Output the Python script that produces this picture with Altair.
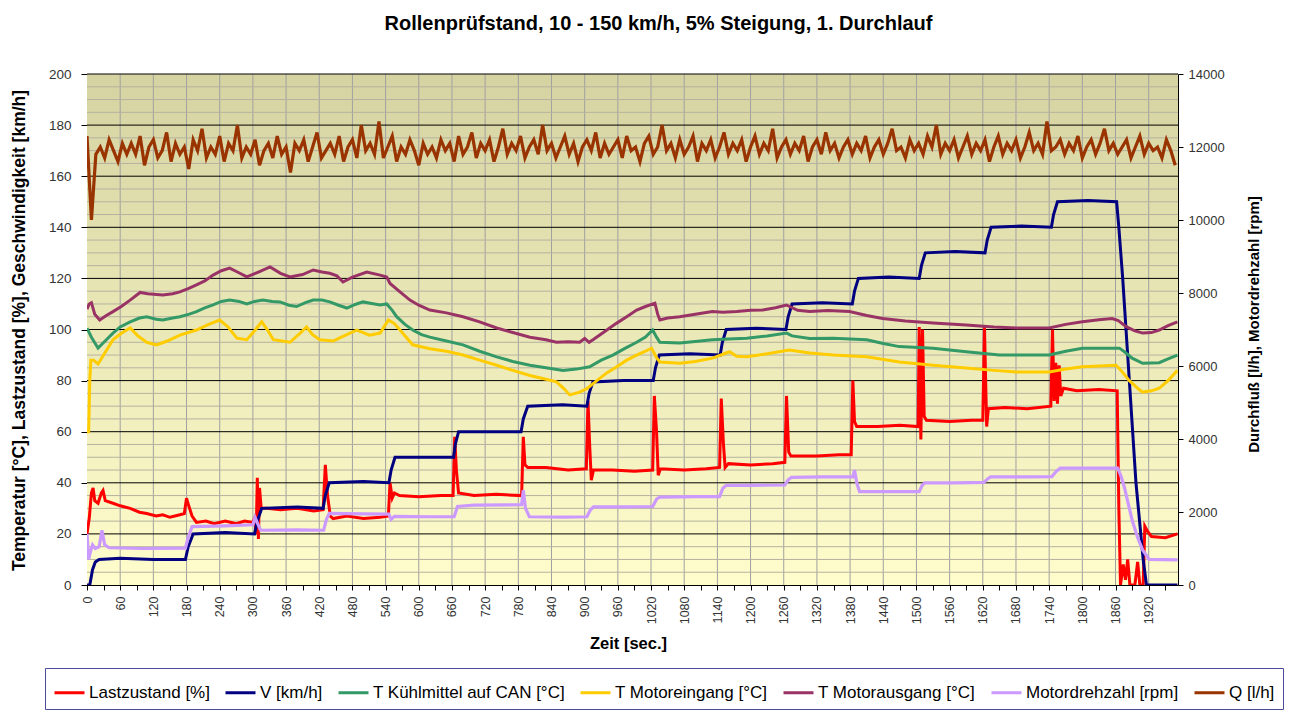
import altair as alt
import pandas as pd

TITLE = "Rollenprüfstand, 10 - 150 km/h, 5% Steigung, 1. Durchlauf"
SERIES = ["Lastzustand [%]", "V [km/h]", "T Kühlmittel auf CAN [°C]", "T Motoreingang [°C]",
          "T Motorausgang [°C]", "Motordrehzahl [rpm]", "Q [l/h]"]
COLORS = ["#ff0000", "#000080", "#339966", "#ffcc00", "#993366", "#cc99ff", "#993300"]

# ---------------- left axis series ----------------
t_last = [0, 4, 8, 11, 14, 20, 26, 29, 33, 47, 60, 78, 95, 108, 125, 137, 150, 168, 176, 180, 184, 190,
          198, 215, 230, 250, 270, 285, 300, 303, 306, 308, 310, 312, 315, 325, 350, 380, 410, 427, 431,
          435, 440, 445, 470, 500, 530, 545, 548, 552, 556, 565, 600, 640, 662, 665, 668, 672, 700, 740,
          786, 789, 792, 797, 830, 870, 903, 906, 909, 912, 916, 950, 990, 1023, 1026, 1030, 1033, 1037,
          1080, 1120, 1144, 1147, 1151, 1154, 1160, 1200, 1240, 1262, 1265, 1269, 1273, 1320, 1360, 1382,
          1385, 1388, 1392, 1430, 1470, 1503, 1505, 1508, 1511, 1514, 1518, 1560, 1600, 1620, 1623, 1627,
          1630, 1660, 1700, 1743, 1746, 1749, 1752, 1755, 1758, 1761, 1766, 1790, 1830, 1863, 1866, 1869,
          1874, 1878, 1882, 1886, 1895, 1900, 1904, 1910, 1913, 1918, 1925, 1950, 1972]
v_last = [20, 26, 36, 38, 33, 32, 36, 37, 33, 32, 31, 30, 28.5, 28, 27, 27.5, 26.5, 27.5, 28, 34, 31, 27,
          24.5, 25, 24, 25, 24, 25, 24.5, 26, 20, 42, 18, 38, 30, 30, 29.5, 30, 29, 29.5, 47,
          35, 27, 26, 27, 26, 26.5, 27, 40, 34, 36, 35, 34.5, 35, 35, 58, 45, 36, 35, 35.5,
          35, 58, 47, 46, 46, 45, 45.5, 72, 55, 41, 45, 45, 44.5, 45, 74, 60, 43, 45.5,
          45, 45.5, 46, 73, 55, 46, 47.5, 47, 47.5, 48, 74, 52, 50.5, 50.5, 51, 51,
          80, 64, 62, 62, 62.5, 62, 101, 57, 100, 66, 64.5, 64, 64.5, 64.5, 101, 62,
          69, 69.5, 69, 70, 100, 72, 87, 71, 86, 74, 77, 76, 76.5, 76, 30, 0,
          8, 2, 10, 0, 0, 9, 0, 0, 23, 21, 19, 18.5, 20]

t_v = [0, 5, 10, 15, 22, 60, 120, 178, 183, 192, 250, 303, 308, 316, 380, 427, 431, 438, 500, 546, 550,
       557, 620, 663, 666, 672, 740, 785, 789, 797, 860, 904, 908, 915, 970, 1024, 1028, 1035, 1090,
       1145, 1149, 1156, 1210, 1264, 1268, 1275, 1330, 1384, 1388, 1395, 1450, 1505, 1509, 1516, 1570,
       1624, 1628, 1635, 1690, 1744, 1748, 1755, 1810, 1862, 1866, 1873, 1885, 1897, 1910, 1916, 1972]
v_v = [0, 0, 6, 9, 10, 10.5, 10, 10, 15, 20, 20.5, 20, 25, 30, 30.5, 30, 35, 40, 40.5, 40, 45,
       50, 50, 50, 55, 60, 60, 60, 65, 70, 70.5, 70, 75, 79.5, 80, 80, 85, 90, 90.5,
       90, 95, 100, 100.5, 100, 105, 110, 110.5, 110, 115, 120, 120.5, 120, 125, 130, 130.5,
       130, 135, 140, 140.5, 140, 145, 150, 150.5, 150, 140, 120, 80, 40, 10, 0, 0]

t_kuehl = [0, 8, 20, 35, 47, 60, 78, 95, 108, 125, 137, 155, 168, 185, 198, 213, 228, 243, 258, 275, 289,
           303, 318, 335, 349, 365, 379, 395, 409, 425, 439, 455, 470, 485, 499, 515, 530, 542, 552, 560,
           575, 589, 605, 620, 650, 680, 710, 741, 770, 801, 830, 861, 885, 909, 930, 951, 972, 994, 1010,
           1023, 1030, 1036, 1072, 1100, 1131, 1160, 1193, 1230, 1265, 1275, 1307, 1350, 1410, 1440, 1469,
           1530, 1590, 1650, 1700, 1740, 1770, 1800, 1867, 1878, 1890, 1909, 1939, 1955, 1972]
v_kuehl = [100.5, 97, 92.7, 96, 98.6, 101, 103, 104.5, 105, 104, 103.7, 104.5, 105, 106, 107, 108.5, 109.6,
           111, 111.5, 111, 110, 111, 111.5, 111, 110.8, 109.5, 109, 110.5, 111.5, 111.5, 110.8, 109.5, 108.4,
           109.8, 110.8, 110.2, 109.6, 110, 107.5, 105, 102, 99.8, 98, 97, 95.5, 94, 91.5, 89.3, 87.5, 86, 85,
           84, 84.5, 85.4, 88, 90, 92.5, 95, 97, 99.8, 97, 95, 94.7, 95.3, 96, 96.3, 96.6, 97.5, 98.6, 97.5,
           96.5, 96.6, 96, 94.5, 93.3, 92.7, 91.3, 90, 90, 90, 91.5, 92.7, 92.7, 91, 88.8, 86.8, 87, 88.5, 90]

t_ein = [0, 3, 5, 7, 12, 20, 30, 47, 62, 78, 92, 108, 126, 145, 168, 198, 220, 240, 255, 271, 289, 305,
         316, 326, 337, 367, 385, 397, 408, 421, 445, 465, 488, 511, 530, 540, 545, 555, 566, 589, 620,
         650, 680, 710, 741, 770, 801, 830, 849, 862, 873, 891, 905, 922, 940, 958, 976, 994, 1010, 1021,
         1030, 1036, 1072, 1100, 1131, 1162, 1175, 1193, 1230, 1270, 1307, 1350, 1410, 1469, 1530, 1590,
         1640, 1681, 1740, 1770, 1800, 1861, 1870, 1885, 1900, 1909, 1925, 1939, 1955, 1972]
v_ein = [60, 60, 80, 88, 88, 86.5, 90, 96, 98.5, 100.6, 97.5, 95, 94, 95.5, 97.8, 99.8, 102, 103.7, 101,
         96.6, 96, 100, 103, 100, 96, 95, 98.5, 101, 98, 96, 95.5, 97.5, 99.8, 97.8, 98.6, 102, 103.7,
         102.5, 99.8, 94, 92.5, 91.5, 90, 88, 86, 84, 82, 80.5, 79.5, 77, 74.4, 75.5, 77, 80, 83, 85.4,
         88, 90, 91.5, 92.7, 89, 87.3, 86.8, 87.5, 88.8, 91.3, 89.5, 89.3, 90.5, 92, 90.8, 90, 89.3, 87.3,
         86, 84.9, 84, 83.4, 83.4, 84.5, 85.4, 86, 84, 80, 77, 75.5, 76, 77, 80, 84]

t_aus = [0, 4, 8, 14, 23, 35, 47, 62, 78, 96, 110, 137, 155, 168, 183, 198, 213, 228, 243, 258, 272, 289,
         310, 331, 350, 367, 390, 409, 425, 439, 452, 463, 480, 506, 530, 542, 548, 566, 584, 600, 620,
         650, 680, 710, 741, 770, 801, 830, 849, 870, 891, 900, 908, 915, 935, 958, 976, 994, 1010, 1027,
         1032, 1036, 1050, 1072, 1100, 1131, 1150, 1175, 1200, 1222, 1245, 1265, 1285, 1307, 1340, 1379,
         1410, 1439, 1480, 1530, 1590, 1640, 1681, 1740, 1770, 1800, 1830, 1854, 1865, 1880, 1895, 1909,
         1925, 1939, 1955, 1972]
v_aus = [108, 110, 110.5, 106, 103.7, 105.5, 107, 109, 111.5, 114.5, 114, 113.5, 114, 114.7, 116, 117.5,
         119, 121.3, 123, 124, 122.5, 120.6, 122.5, 124.5, 122, 120.6, 121.5, 123.3, 122.5, 122, 121,
         118.6, 120.5, 122.5, 121.3, 120.5, 118, 114.7, 111.5, 109.5, 107.6, 106.5, 105, 103, 100.6, 98.8,
         97, 96, 95, 95.2, 95, 96.5, 95, 96, 99, 102.5, 105, 107.6, 109, 110.3, 106, 103.7, 104.5, 105,
         106, 107, 106.8, 107, 107.5, 107.6, 108.5, 109.6, 107.5, 107, 107.4, 107, 105.5, 104.3, 103.3,
         102.5, 101.8, 101, 100.6, 100.6, 102, 103, 103.8, 104.3, 103.5, 101, 99.5, 98.6, 98.8, 99.8,
         101.5, 103]

# ---------------- right axis series ----------------
t_rpm = [0, 3, 6, 10, 15, 22, 27, 32, 40, 100, 178, 183, 190, 250, 300, 304, 308, 314, 380, 428, 433,
         438, 500, 546, 550, 556, 620, 664, 670, 700, 786, 789, 793, 800, 860, 904, 910, 916, 980, 1023,
         1030, 1036, 1100, 1144, 1150, 1156, 1200, 1262, 1268, 1274, 1330, 1385, 1388, 1392, 1397, 1450,
         1505, 1510, 1515, 1570, 1622, 1628, 1634, 1700, 1745, 1752, 1760, 1810, 1864, 1870, 1876, 1890,
         1900, 1909, 1921, 1972]
v_rpm = [1400, 700, 900, 1100, 1000, 1050, 1500, 1100, 1020, 1000, 1010, 1300, 1600, 1620, 1650, 1850,
         1700, 1500, 1510, 1500, 1800, 1960, 1950, 1940, 1800, 1880, 1870, 1870, 2150, 2190, 2200, 2600,
         2100, 1870, 1860, 1870, 2050, 2140, 2140, 2150, 2350, 2410, 2420, 2420, 2650, 2730, 2730, 2740,
         2880, 2950, 2960, 2960, 3150, 2800, 2560, 2560, 2560, 2720, 2800, 2800, 2810, 2900, 2960, 2960,
         2970, 3100, 3200, 3200, 3200, 2980, 2680, 1780, 1300, 960, 700, 690]

# Q [l/h], one reading every 8 s
q_vals = [12300, 10000, 11800, 12000, 11700, 12200, 11900, 11600, 12100, 11800,
          12100, 11800, 12300, 11500, 12000, 12200, 11700, 11900, 12400, 11600,
          12100, 11800, 12000, 11400, 12200, 11900, 12500, 11700, 12000, 11800,
          12300, 11600, 12100, 11900, 12600, 11700, 12000, 11800, 12200, 11500,
          11900, 12100, 11700, 12300, 11800, 12000, 11300, 12100, 11900, 12200,
          11600, 12000, 12400, 11700, 11900, 12100, 11800, 12300, 11600, 12000,
          12200, 11700, 12600, 11900, 12100, 11800, 12700, 11700, 12000, 12300,
          11600, 12000, 11800, 12200, 11900, 11500, 12100, 11800, 12000, 11700,
          12200, 11900, 12100, 11600, 12300, 11800, 12000, 12400, 11700, 12100,
          11900, 12200, 11600, 12000, 12500, 11800, 12100, 11900, 12300, 11700,
          12000, 12200, 11800, 12600, 11900, 12100, 11700, 12000, 12300, 11800,
          12100, 11600, 12000, 12200, 11900, 12400, 11700, 12100, 11800, 12000,
          12200, 11700, 12300, 11900, 12000, 11600, 12100, 12300, 11800, 12000,
          12600, 11900, 12100, 11700, 12200, 11800, 12000, 12300, 11600, 12100,
          11900, 12200, 11700, 12000, 12400, 11800, 12100, 11900, 12200, 11600,
          12000, 12300, 11800, 12100, 11900, 12500, 11700, 12000, 12200, 11800,
          12100, 11900, 12300, 11600, 12000, 12200, 11800, 12400, 11900, 12100,
          11700, 12000, 12200, 11800, 12100, 11900, 12300, 11700, 12000, 12200,
          11800, 12100, 12500, 11900, 12000, 11700, 12200, 11900, 12100, 11800,
          12300, 12000, 12600, 11800, 12100, 11900, 12200, 11700, 12000, 12300,
          11800, 12100, 11900, 12200, 11600, 12000, 12300, 11800, 12100, 11900,
          12200, 11700, 12000, 12400, 11900, 12100, 11800, 12700, 11900, 12000,
          12200, 11800, 12100, 11900, 12300, 11700, 12000, 12200, 11800, 12100,
          12500, 11900, 12100, 11800, 12000, 12200, 11700, 12000, 12300, 11800,
          12100, 11900, 12000, 11700, 12200, 11900, 11500]
t_q = [8 * i for i in range(len(q_vals))]

# ---------------- axes / grid ----------------
X_MAX = 1973
x_tick_vals = list(range(0, 1951, 30))
y_left_ticks = list(range(0, 201, 20))
y_right_ticks = list(range(0, 14001, 2000))
v_grid = list(range(60, 1921, 60))
h_minor = [v for v in range(5, 200, 5) if v % 20 != 0]
h_major = list(range(20, 201, 20))


def frame(ts, vs, name):
    return pd.DataFrame({"t": ts, "v": vs, "series": name})


left_df = pd.concat([frame(t_last, v_last, SERIES[0]), frame(t_v, v_v, SERIES[1]),
                     frame(t_kuehl, v_kuehl, SERIES[2]), frame(t_ein, v_ein, SERIES[3]),
                     frame(t_aus, v_aus, SERIES[4])], ignore_index=True)
right_df = pd.concat([frame(t_rpm, v_rpm, SERIES[5]), frame(t_q, q_vals, SERIES[6])], ignore_index=True)

W, H = 1091, 511
FONT = "Liberation Sans"

xscale = alt.Scale(domain=[0, X_MAX], nice=False, zero=False)
yscale = alt.Scale(domain=[0, 200], nice=False)

X_AXIS = alt.Axis(values=x_tick_vals, title="Zeit [sec.]", grid=False, labelAngle=270, format="d",
                  labelExpr="datum.value % 60 === 0 ? datum.label : ''",
                  labelFontSize=12.5, labelFont=FONT, labelColor="#333", labelPadding=6,
                  tickSize=5, tickColor="#000", domainColor="#000",
                  titleFont=FONT, titleFontSize=16.5, titleFontWeight="bold",
                  titleX=541, titleY=58, titleBaseline="middle", labelFlush=False,
                  labelOverlap=False)
Y_AXIS = alt.Axis(values=y_left_ticks, grid=False, orient="left", format="d",
                  title="Temperatur [°C], Lastzustand [%], Geschwindigkeit [km/h]",
                  labelFontSize=13.5, labelFont=FONT, labelColor="#333", labelPadding=10,
                  tickSize=6, tickColor="#000", domainColor="#000",
                  titleFont=FONT, titleFontSize=17.5, titleFontWeight="bold",
                  titleX=-68, titleY=256, titleBaseline="middle", titleAngle=270)
Y2_AXIS = alt.Axis(values=y_right_ticks, grid=False, orient="right", format="d",
                   title="Durchfluß [l/h], Motordrehzahl [rpm]",
                   labelFontSize=13, labelFont=FONT, labelColor="#333", labelPadding=5,
                   tickSize=5, tickColor="#000", domainColor="#000",
                   titleFont=FONT, titleFontSize=15, titleFontWeight="bold",
                   titleX=75, titleY=250, titleBaseline="middle", titleAngle=270)

color = alt.Color("series:N", scale=alt.Scale(domain=SERIES, range=COLORS), sort=SERIES,
                  legend=alt.Legend(title=None, orient="none", legendX=-42, legendY=594,
                                    direction="horizontal", columns=7, symbolType="stroke",
                                    symbolSize=900, symbolStrokeWidth=3, labelFontSize=17,
                                    labelFont=FONT, labelColor="#000", columnPadding=9,
                                    labelOffset=3, padding=8, strokeColor="#4b4b9b",
                                    labelLimit=400))

bg = alt.Chart(pd.DataFrame({"a": [0]})).mark_rect(
    fill={"gradient": "linear", "x1": 0, "y1": 0, "x2": 0, "y2": 1,
          "stops": [{"offset": 0, "color": "#d6d3a2"}, {"offset": 1, "color": "#fffdcc"}]}
).encode(x=alt.datum(0, scale=xscale, axis=X_AXIS), x2=alt.datum(X_MAX),
         y=alt.datum(0, scale=yscale, axis=Y_AXIS), y2=alt.datum(200))

vg = alt.Chart(pd.DataFrame({"t": v_grid})).mark_rule(color="#a0a0a0", strokeWidth=1).encode(
    x=alt.X("t:Q", scale=xscale, axis=X_AXIS))
hm = alt.Chart(pd.DataFrame({"v": h_minor})).mark_rule(color="#b4b2a0", strokeWidth=1).encode(
    y=alt.Y("v:Q", scale=yscale, axis=Y_AXIS))
hM = alt.Chart(pd.DataFrame({"v": h_major})).mark_rule(color="#000000", strokeWidth=1).encode(
    y=alt.Y("v:Q", scale=yscale, axis=Y_AXIS))

left_lines = alt.Chart(left_df).mark_line(strokeWidth=3, clip=True).encode(
    x=alt.X("t:Q", scale=xscale, axis=X_AXIS),
    y=alt.Y("v:Q", scale=yscale, axis=Y_AXIS),
    color=color,
    detail="series:N",
)

right_lines = alt.Chart(right_df).mark_line(strokeWidth=3.2, clip=True).encode(
    x=alt.X("t:Q", scale=xscale, axis=X_AXIS),
    y=alt.Y("v:Q", scale=alt.Scale(domain=[0, 14000], nice=False), axis=Y2_AXIS),
    color=color,
    detail="series:N",
)

left = alt.layer(bg, vg, hm, hM, left_lines)
chart = alt.layer(left, right_lines).resolve_scale(y="independent").properties(
    width=W, height=H,
    title=alt.TitleParams(TITLE, font=FONT, fontSize=20, fontWeight="bold", anchor="middle",
                          offset=33, dx=26),
    autosize=alt.AutoSizeParams(type="none"),
    padding={"left": 79, "top": 66, "right": 106, "bottom": 130},
).configure_view(stroke=None).configure(background="#ffffff")

chart.save("out.html", embed_options={"renderer": "svg", "actions": False})
